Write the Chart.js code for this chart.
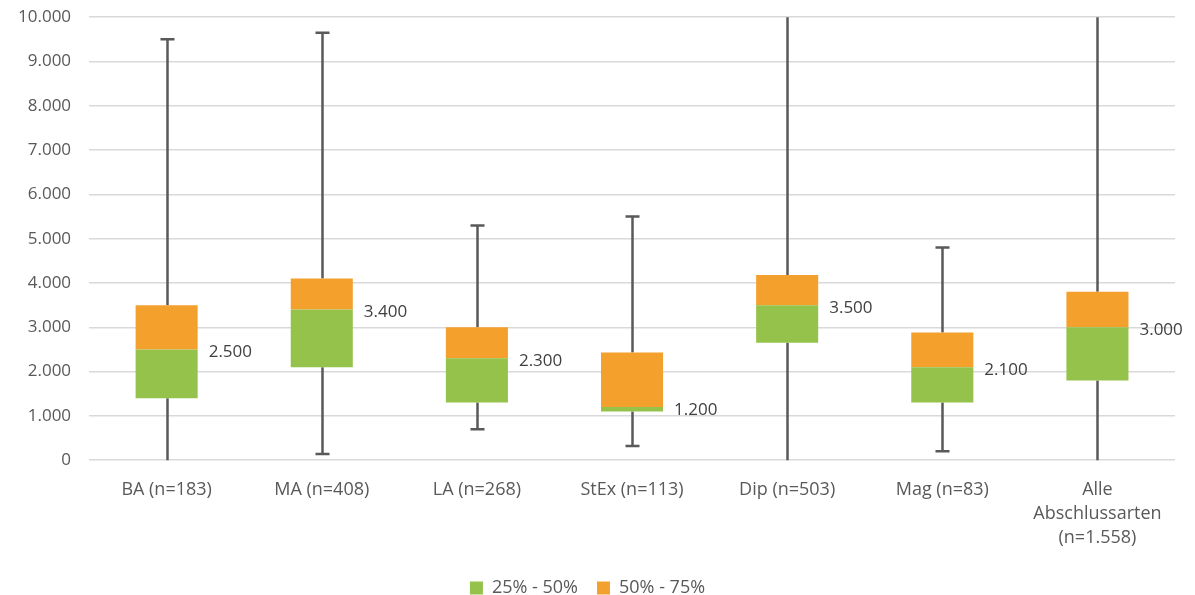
<!DOCTYPE html>
<html>
<head>
<meta charset="utf-8">
<script src="https://cdn.jsdelivr.net/npm/chart.js@4"></script>
<style>
  body { margin: 0; background: #fff; overflow: hidden; }
  #wrap { width: 1195px; height: 606px; margin-top: -11px; }
</style>
</head>
<body>
<div id="wrap"><canvas id="myChart"></canvas></div>
<script>
const categories = [
  "BA (n=183)",
  "MA (n=408)",
  "LA (n=268)",
  "StEx (n=113)",
  "Dip (n=503)",
  "Mag (n=83)",
  ["Alle", "Abschlussarten", "(n=1.558)"],
];
const minValues = [0, 140, 700, 320, 0, 200, 0];
const q1Values = [1400, 2100, 1300, 1100, 2650, 1300, 1800];
const medianValues = [2500, 3400, 2300, 1200, 3500, 2100, 3000];
const q3Values = [3500, 4100, 3000, 2430, 4180, 2880, 3800];
const maxValues = [9500, 9650, 5300, 5500, 10000, 4800, 10000];
const yTicks = [0, 1000, 2000, 3000, 4000, 5000, 6000, 7000, 8000, 9000, 10000];

const green = "#95c24b";
const orange = "#f4a02c";
const textGrey = "#595959";
const fontFamily = "'Open Sans', sans-serif";

// thousands with a dot, like "10.000"
const fmt = (v) => String(v).replace(/\B(?=(\d{3})+(?!\d))/g, ".");

const lowerBox = q1Values.map((q, i) => [q, medianValues[i]]);
const upperBox = medianValues.map((m, i) => [m, q3Values[i]]);

// whiskers outside the boxes, median labels on the right
const boxExtras = {
  id: "boxExtras",
  beforeDatasetsDraw(chart) {
    const { ctx, scales } = chart;
    const y = scales.y;
    ctx.save();
    ctx.strokeStyle = "#595959";
    ctx.lineWidth = 2.5;
    categories.forEach((c, i) => {
      const x = Math.round(scales.x.getPixelForValue(i)) + 0.5;
      const top = y.getPixelForValue(maxValues[i]);
      const bottom = y.getPixelForValue(minValues[i]);
      ctx.beginPath();
      ctx.moveTo(x, top);
      ctx.lineTo(x, y.getPixelForValue(q3Values[i]));
      ctx.moveTo(x, y.getPixelForValue(q1Values[i]));
      ctx.lineTo(x, bottom);
      if (maxValues[i] < 10000) {
        ctx.moveTo(x - 7, top);
        ctx.lineTo(x + 7, top);
      }
      if (minValues[i] > 0) {
        ctx.moveTo(x - 7, bottom);
        ctx.lineTo(x + 7, bottom);
      }
      ctx.stroke();
    });
    ctx.restore();
  },
  afterDatasetsDraw(chart) {
    const { ctx, scales } = chart;
    const bars = chart.getDatasetMeta(0).data;
    ctx.save();
    ctx.fillStyle = "#404040";
    ctx.font = "17px " + fontFamily;
    ctx.textAlign = "left";
    ctx.textBaseline = "middle";
    medianValues.forEach((m, i) => {
      const bar = bars[i];
      const x = bar.x + bar.width / 2 + 11;
      ctx.fillText(fmt(m), x, scales.y.getPixelForValue(m) + 3);
    });
    ctx.restore();
  },
};

new Chart("myChart", {
  type: "bar",
  data: {
    labels: categories,
    datasets: [
      {
        label: "25% - 50%",
        data: lowerBox,
        backgroundColor: green,
        grouped: false,
        barPercentage: 0.4,
        categoryPercentage: 1,
      },
      {
        label: "50% - 75%",
        data: upperBox,
        backgroundColor: orange,
        grouped: false,
        barPercentage: 0.4,
        categoryPercentage: 1,
      },
    ],
  },
  options: {
    responsive: true,
    maintainAspectRatio: false,
    animation: false,
    layout: { padding: { top: 0, right: 20, left: 0, bottom: -12 } },
    plugins: {
      tooltip: { enabled: false },
      legend: {
        position: "bottom",
        labels: {
          boxWidth: 13,
          boxHeight: 13,
          padding: 19,
          color: textGrey,
          font: { family: fontFamily, size: 18 },
        },
      },
    },
    scales: {
      x: {
        grid: { display: false },
        border: { display: false },
        ticks: {
          color: textGrey,
          padding: 10,
          maxRotation: 0,
          autoSkip: false,
          font: { family: fontFamily, size: 18, lineHeight: 1.33 },
        },
      },
      y: {
        min: 0,
        max: 10000,
        afterBuildTicks: (axis) => {
          axis.ticks = yTicks.map((v) => ({ value: v }));
        },
        grid: { color: "#d9d9d9", lineWidth: 1.5, drawTicks: false },
        border: { display: false },
        ticks: {
          color: textGrey,
          padding: 18,
          callback: (v) => fmt(v),
          font: { family: fontFamily, size: 17 },
        },
      },
    },
  },
  plugins: [boxExtras],
});
</script>
</body>
</html>
